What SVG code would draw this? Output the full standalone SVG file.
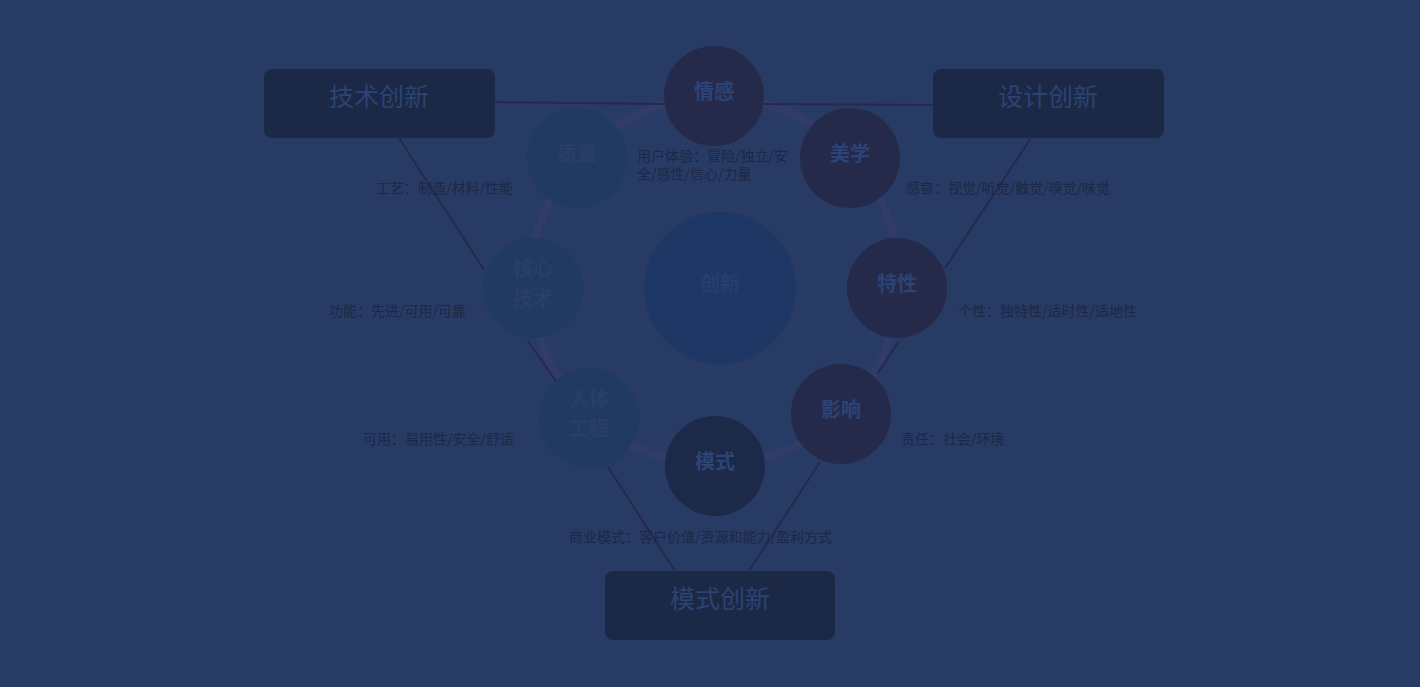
<svg xmlns="http://www.w3.org/2000/svg" width="1420" height="687" viewBox="0 0 1420 687">
<style>
.box{fill:#1b2846}
.boxt{font-family:"Noto Sans CJK SC","Liberation Sans",sans-serif;font-size:25px;fill:#2c4373;text-anchor:middle}
.ct{font-family:"Noto Sans CJK SC","Liberation Sans",sans-serif;font-size:20px;font-weight:bold;text-anchor:middle}
.lbl{font-family:"Noto Sans CJK SC","Liberation Sans",sans-serif;font-size:14px;fill:#1c2846}
.ln{stroke:#28294a;stroke-width:2;fill:none}
.p{fill:#262a4a}
.b{fill:#203a62}
</style>
<rect width="1420" height="687" fill="#283b65"/>
<g id="ring"><circle cx="715" cy="281" r="184" fill="none" stroke="#313c68" stroke-width="8"/></g>
<g id="connectors">
<line class="ln" x1="495" y1="102" x2="664" y2="104"/>
<line class="ln" x1="764" y1="104" x2="933" y2="105"/>
<line class="ln" x1="399" y1="138" x2="484" y2="270"/>
<line class="ln" x1="528" y1="341" x2="556" y2="381"/>
<line class="ln" x1="1031" y1="138" x2="945" y2="268"/>
<line class="ln" x1="899" y1="341" x2="877" y2="374"/>
<line class="ln" x1="608" y1="467" x2="675" y2="571"/>
<line class="ln" x1="820" y1="462" x2="749" y2="571"/>
</g>
<g id="node-jishu"><rect class="box" x="264" y="69" width="231" height="69" rx="8"/><text class="boxt" x="379" y="106">技术创新</text></g>
<g id="node-sheji"><rect class="box" x="933" y="69" width="231" height="69" rx="8"/><text class="boxt" x="1048" y="106">设计创新</text></g>
<g id="node-moshi-box"><rect class="box" x="605" y="571" width="230" height="69" rx="8"/><text class="boxt" x="720" y="608">模式创新</text></g>
<g id="node-chuangxin"><circle cx="720" cy="288" r="76" fill="#1e3765"/><text class="ct" x="720" y="291" style="fill:#273e6e">创新</text></g>
<g id="node-qinggan"><circle class="p" cx="714" cy="96" r="50"/><text class="ct" x="714" y="99" fill="#2b4478">情感</text></g>
<g id="node-meixue"><circle class="p" cx="850" cy="158" r="50"/><text class="ct" x="850" y="161" fill="#2b4478">美学</text></g>
<g id="node-texing"><circle class="p" cx="897" cy="288" r="50"/><text class="ct" x="897" y="291" fill="#2b4478">特性</text></g>
<g id="node-yingxiang"><circle class="p" cx="841" cy="414" r="50"/><text class="ct" x="841" y="417" fill="#2b4478">影响</text></g>
<g id="node-moshi"><circle cx="715" cy="466" r="50" fill="#1c2948"/><text class="ct" x="715" y="469" fill="#2d4576">模式</text></g>
<g id="node-zhiliang"><circle class="b" cx="577" cy="158" r="50"/><text class="ct" x="577" y="161" fill="#2a3e6a">质量</text></g>
<g id="node-hexin"><circle class="b" cx="533" cy="288" r="50"/><text class="ct" x="533" y="276" fill="#2a3e6a">核心</text><text class="ct" x="533" y="306" fill="#2a3e6a">技术</text></g>
<g id="node-renti"><circle class="b" cx="589" cy="418" r="50"/><text class="ct" x="589" y="406" fill="#2a3e6a">人体</text><text class="ct" x="589" y="436" fill="#2a3e6a">工程</text></g>
<g id="labels">
<text class="lbl" x="637" y="161">用户体验：冒险/独立/安</text>
<text class="lbl" x="637" y="179">全/感性/信心/力量</text>
<text class="lbl" x="376" y="193">工艺：制造/材料/性能</text>
<text class="lbl" x="906" y="193">感官：视觉/听觉/触觉/嗅觉/味觉</text>
<text class="lbl" x="329" y="316">功能：先进/可用/可靠</text>
<text class="lbl" x="958" y="316">个性：独特性/适时性/适地性</text>
<text class="lbl" x="363" y="444">可用：易用性/安全/舒适</text>
<text class="lbl" x="901" y="444">责任：社会/环境</text>
<text class="lbl" x="569" y="542">商业模式：客户价值/资源和能力/盈利方式</text>
</g>
</svg>
